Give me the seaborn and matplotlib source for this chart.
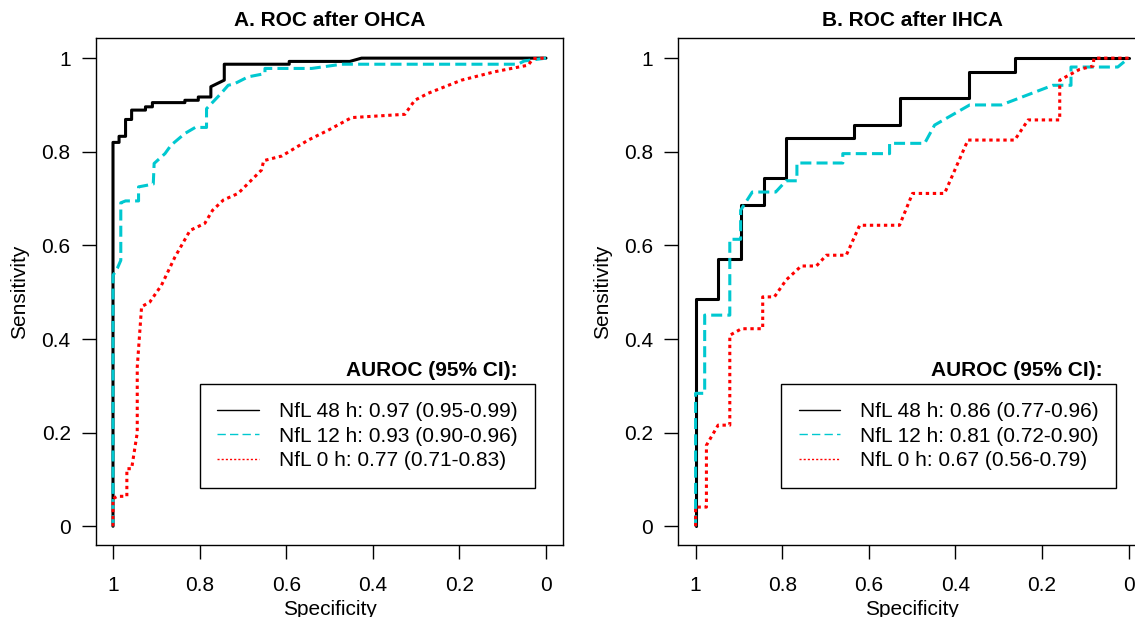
import matplotlib
matplotlib.use('Agg')
import matplotlib.pyplot as plt
from matplotlib.lines import Line2D
import seaborn as sns

# ROC points as (specificity, sensitivity)
# A. after OHCA
ohca_48_spec = [1, 1, 0.986, 0.986, 0.971, 0.971, 0.957, 0.957, 0.925, 0.925, 0.909, 0.909,
                0.834, 0.834, 0.803, 0.803, 0.774, 0.774, 0.743, 0.743, 0.593, 0.593, 0.453, 0.426, 0]
ohca_48_sens = [0, 0.82, 0.82, 0.833, 0.833, 0.869, 0.869, 0.889, 0.889, 0.896, 0.896, 0.905,
                0.905, 0.91, 0.91, 0.917, 0.917, 0.939, 0.953, 0.987, 0.987, 0.993, 0.993, 1, 1]
ohca_12_spec = [1, 1, 0.99, 0.982, 0.982, 0.971, 0.941, 0.941, 0.907, 0.905, 0.88, 0.866, 0.834,
                0.81, 0.784, 0.784, 0.75, 0.734, 0.72, 0.688, 0.649, 0.649, 0.541, 0.472, 0.065,
                0.05, 0]
ohca_12_sens = [0, 0.536, 0.551, 0.568, 0.691, 0.695, 0.695, 0.725, 0.731, 0.775, 0.796, 0.814,
                0.839, 0.852, 0.852, 0.892, 0.925, 0.942, 0.945, 0.96, 0.967, 0.978, 0.978, 0.987,
                0.987, 0.994, 1]
ohca_0_spec = [1, 1, 0.99, 0.968, 0.968, 0.957, 0.944, 0.944, 0.934, 0.915, 0.888, 0.857, 0.822,
               0.788, 0.77, 0.745, 0.711, 0.657, 0.652, 0.61, 0.549, 0.503, 0.449, 0.326, 0.303,
               0.272, 0.195, 0.118, 0.041, 0.03, 0]
ohca_0_sens = [0, 0.059, 0.064, 0.064, 0.123, 0.123, 0.2, 0.34, 0.469, 0.479, 0.515, 0.575, 0.632,
               0.647, 0.675, 0.697, 0.711, 0.761, 0.781, 0.791, 0.825, 0.846, 0.873, 0.88, 0.91,
               0.925, 0.953, 0.971, 0.985, 0.999, 1]
ohca_labels = ['NfL 48 h: 0.97 (0.95-0.99)', 'NfL 12 h: 0.93 (0.90-0.96)',
               'NfL 0 h: 0.77 (0.71-0.83)']

# B. after IHCA
ihca_48_spec = [1, 1, 0.948, 0.948, 0.896, 0.896, 0.843, 0.843, 0.791, 0.791, 0.633, 0.633,
                0.527, 0.527, 0.369, 0.369, 0.263, 0.263, 0]
ihca_48_sens = [0, 0.486, 0.486, 0.571, 0.571, 0.686, 0.686, 0.743, 0.743, 0.829, 0.829, 0.857,
                0.857, 0.914, 0.914, 0.971, 0.971, 1, 1]
ihca_12_spec = [1, 1, 0.979, 0.979, 0.921, 0.921, 0.896, 0.896, 0.869, 0.815, 0.791, 0.766,
                0.766, 0.66, 0.66, 0.552, 0.552, 0.471, 0.448, 0.367, 0.294, 0.175, 0.133, 0.133,
                0.025, 0]
ihca_12_sens = [0, 0.284, 0.284, 0.451, 0.451, 0.613, 0.613, 0.675, 0.714, 0.714, 0.738, 0.738,
                0.776, 0.776, 0.796, 0.796, 0.818, 0.818, 0.857, 0.9, 0.9, 0.942, 0.942, 0.981,
                0.981, 1]
ihca_0_spec = [1, 1, 0.975, 0.975, 0.948, 0.921, 0.921, 0.894, 0.845, 0.845, 0.818, 0.791, 0.756,
               0.721, 0.698, 0.652, 0.621, 0.529, 0.499, 0.425, 0.371, 0.263, 0.232, 0.159, 0.159,
               0.113, 0.082, 0.08, 0]
ihca_0_sens = [0, 0.041, 0.041, 0.173, 0.216, 0.216, 0.408, 0.422, 0.422, 0.49, 0.49, 0.526,
               0.556, 0.556, 0.579, 0.579, 0.643, 0.643, 0.711, 0.711, 0.825, 0.825, 0.868, 0.868,
               0.953, 0.976, 0.983, 1, 1]
ihca_labels = ['NfL 48 h: 0.86 (0.77-0.96)', 'NfL 12 h: 0.81 (0.72-0.90)',
               'NfL 0 h: 0.67 (0.56-0.79)']

ticks = [0, 0.2, 0.4, 0.6, 0.8, 1]
tick_labels = ['0', '0.2', '0.4', '0.6', '0.8', '1']

CYAN = '#00C8D0'
# colour, width, dash pattern for curve / for legend sample
styles = [('black', 2.2, '-', '-'),
          (CYAN, 2.2, (0, (3.6, 1.7)), (0, (6, 3))),
          ('red', 2.2, (0, (1.1, 1.2)), (0, (1.5, 1.5)))]

sns.set_style('ticks')
plt.rcParams['font.family'] = ['Liberation Sans', 'DejaVu Sans']
plt.rcParams['font.size'] = 15
for key in ['text.color', 'axes.labelcolor', 'xtick.color', 'ytick.color']:
	plt.rcParams[key] = 'black'


def draw_panel(ax, curves, labels, title, legend_x, note_x):
	for (xs, ys), (col, lw, ls, _) in zip(curves, styles):
		sns.lineplot(x=xs, y=ys, sort=False, estimator=None, color=col,
					 linewidth=lw, linestyle=ls, ax=ax)
	ax.set_xlim(1.04, -0.04)
	ax.set_ylim(-0.04, 1.043)
	ax.set_xticks(ticks, tick_labels)
	ax.set_yticks(ticks, tick_labels)
	ax.tick_params(axis='both', length=10, width=1, color='black', labelsize=15)
	ax.tick_params(axis='x', pad=12)
	ax.tick_params(axis='y', pad=8)
	for sp in ax.spines.values():
		sp.set_color('black')
		sp.set_linewidth(1)
	ax.set_xlabel('Specificity', fontsize=15, labelpad=4)
	ax.set_ylabel('Sensitivity', fontsize=15, labelpad=9)
	ax.set_title(title, fontsize=15, fontweight='bold', pad=9)

	handles = [Line2D([], [], color=c, linewidth=1, linestyle=hs) for c, _, _, hs in styles]
	leg = ax.legend(handles, labels, loc='lower right', bbox_to_anchor=(legend_x, 0.1124),
					borderaxespad=0, fancybox=False, framealpha=1, edgecolor='black',
					fontsize=15, handlelength=2.0, handletextpad=0.95, labelspacing=0.27,
					borderpad=0.85)
	leg.get_frame().set_linewidth(1)
	ax.text(note_x, 0.332, 'AUROC (95% CI):', ha='right', va='center',
			fontsize=15, fontweight='bold')


fig = plt.figure(figsize=(11.35, 6.17), dpi=100)
ax_a = fig.add_axes([0.0843, 0.1167, 0.4120, 0.8217])
ax_b = fig.add_axes([0.5976, 0.1167, 0.4120, 0.8217])

draw_panel(ax_a, [(ohca_48_spec, ohca_48_sens), (ohca_12_spec, ohca_12_sens), (ohca_0_spec, ohca_0_sens)],
		   ohca_labels, 'A. ROC after OHCA', 0.940, 0.065)
draw_panel(ax_b, [(ihca_48_spec, ihca_48_sens), (ihca_12_spec, ihca_12_sens), (ihca_0_spec, ihca_0_sens)],
		   ihca_labels, 'B. ROC after IHCA', 0.937, 0.061)

fig.savefig('out.png', dpi=100)
